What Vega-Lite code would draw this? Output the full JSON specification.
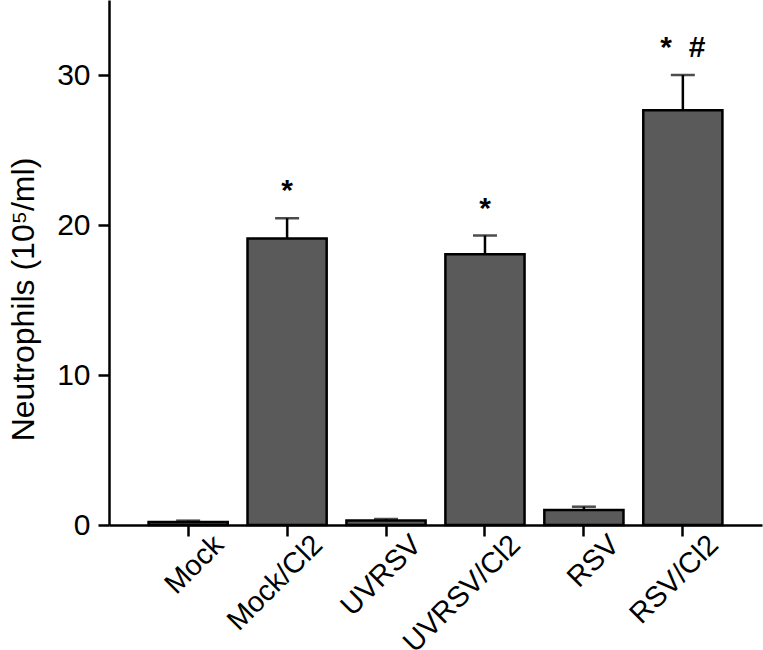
{
  "$schema": "https://vega.github.io/schema/vega-lite/v6.json",
  "width": 653,
  "height": 525,
  "autosize": {"type": "none"},
  "padding": {"left": 109, "top": 0, "right": 1, "bottom": 125},
  "background": "white",
  "config": {
    "view": {"stroke": null},
    "font": "Liberation Sans"
  },
  "data": {"values": [
    {"group": "Mock", "mean": 0.2, "err": 0.29, "sig": ""},
    {"group": "Mock/Cl2", "mean": 19.1, "err": 20.45, "sig": "*"},
    {"group": "UVRSV", "mean": 0.3, "err": 0.4, "sig": ""},
    {"group": "UVRSV/Cl2", "mean": 18.05, "err": 19.3, "sig": "*"},
    {"group": "RSV", "mean": 1.0, "err": 1.22, "sig": ""},
    {"group": "RSV/Cl2", "mean": 27.65, "err": 30.0, "sig": "*\u00a0\u00a0#"}
  ]},
  "encoding": {
    "x": {"field": "group", "type": "nominal", "sort": null, "title": null,
          "scale": {"paddingInner": 0.2, "paddingOuter": 0.4},
          "axis": {
            "domainColor": "black", "domainWidth": 2.5, "tickColor": "black", "tickWidth": 2.5, "tickSize": 11,
            "labelAngle": -45, "labelAlign": "right", "labelBaseline": "alphabetic", "labelOffset": 37, "labelPadding": 10,
            "labelFontSize": 29, "labelColor": "black", "grid": false, "labelFont": "Liberation Sans"
          }}
  },
  "layer": [
    {
      "mark": {"type": "rule", "strokeWidth": 2.5, "color": "black"},
      "encoding": {
        "y": {"field": "mean", "type": "quantitative", "title": "Neutrophils (10⁵/ml)", "scale": {"domain": [0, 35]},
              "axis": {
                "domainColor": "black", "domainWidth": 2.5, "tickColor": "black", "tickWidth": 2.5, "tickSize": 11,
                "values": [0, 10, 20, 30], "labelFontSize": 30, "labelColor": "black", "labelPadding": 8, "grid": false,
                "labelFont": "Liberation Sans", "titleFont": "Liberation Sans",
                "titleFontSize": 32, "titleColor": "black", "titleFontWeight": "normal", "titleX": -76, "titleY": 299,
                "titleAngle": -90, "titleBaseline": "alphabetic", "titleAlign": "center"
              }},
        "y2": {"field": "err"}
      }
    },
    {
      "mark": {"type": "tick", "orient": "horizontal", "size": 24, "thickness": 2.5, "color": "black"},
      "encoding": {
        "y": {"field": "err", "type": "quantitative", "title": "Neutrophils (10⁵/ml)"}
      }
    },
    {
      "mark": {"type": "bar", "fill": "#5a5a5a", "stroke": "black", "strokeWidth": 2.5},
      "encoding": {
        "y": {"field": "mean", "type": "quantitative", "title": "Neutrophils (10⁵/ml)"}
      }
    },
    {
      "mark": {"type": "text", "dy": -18, "fontSize": 30, "fontWeight": "bold", "color": "black", "baseline": "alphabetic"},
      "encoding": {
        "y": {"field": "err", "type": "quantitative", "title": "Neutrophils (10⁵/ml)"},
        "text": {"field": "sig"}
      }
    }
  ]
}
